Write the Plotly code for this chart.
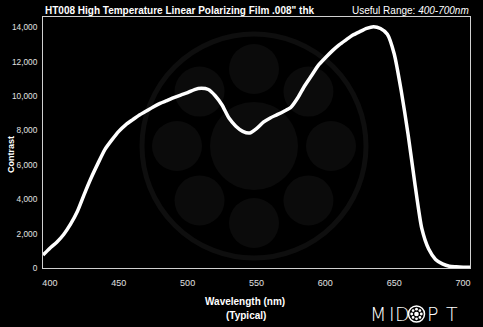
import math
import plotly.graph_objects as go

# Contrast spectrum of HT008 high temperature linear polarizing film
wavelength_nm = [395, 400, 405, 410, 415, 420, 425, 430, 435, 440, 445, 450, 455,
                 460, 465, 470, 475, 480, 485, 490, 495, 500, 505, 510, 515, 520,
                 525, 530, 535, 540, 545, 550, 555, 560, 565, 570, 575, 580, 585,
                 590, 595, 600, 605, 610, 615, 620, 625, 630, 635, 640, 645, 650,
                 655, 660, 665, 670, 675, 680, 685, 690, 695, 700, 705]
contrast = [750, 1150, 1500, 1950, 2550, 3300, 4300, 5250, 6100, 6900, 7450, 7950, 8330,
            8620, 8900, 9130, 9370, 9580, 9740, 9910, 10060, 10200, 10380, 10450, 10380, 10020,
            9480, 8720, 8250, 7950, 7850, 8110, 8480, 8730, 8920, 9120, 9350, 9900, 10600,
            11200, 11800, 12230, 12630, 12980, 13270, 13550, 13750, 13940, 14040, 13930, 13600, 12450,
            10340, 7800, 4900, 2300, 1100, 500, 240, 100, 70, 50, 40]

x_ticks = [400, 450, 500, 550, 600, 650, 700]
y_ticks = [0, 2000, 4000, 6000, 8000, 10000, 12000, 14000]
y_tick_text = ["0", "2,000", "4,000", "6,000", "8,000", "10,000", "12,000", "14,000"]

title_text = "HT008 High Temperature Linear Polarizing Film .008\" thk"
range_text = "Useful Range: <i>400-700nm</i>"
brand_letters = ["M", "I", "D", "P", "T"]

W, H = 483, 327
ML, MR, MT, MB = 43, 13, 17, 59
PW, PH = W - ML - MR, H - MT - MB


def px_to_paper(px, py):
    return (px - ML) / PW, (H - MB - py) / PH


fig = go.Figure()
fig.add_trace(go.Scatter(
    x=wavelength_nm, y=contrast, mode="lines",
    line=dict(color="white", width=3.5, shape="spline", smoothing=0.6),
    hoverinfo="skip", showlegend=False,
))

shapes = []


def circle(cx, cy, r, fill=None, line_color=None, line_width=0, layer="below"):
    ax, ay = px_to_paper(cx, cy)
    shapes.append(dict(
        type="circle", xref="paper", yref="paper",
        xsizemode="pixel", ysizemode="pixel", xanchor=ax, yanchor=ay,
        x0=-r, x1=r, y0=-r, y1=r,
        fillcolor=fill if fill else "rgba(0,0,0,0)",
        line=dict(color=line_color if line_color else "rgba(0,0,0,0)", width=line_width),
        layer=layer,
    ))


# faint watermark emblem behind the curve
wcx, wcy = 254, 146
circle(wcx, wcy, 112, line_color="#0e0e0e", line_width=5)
circle(wcx, wcy, 44, fill="#0b0b0b")
for k in range(8):
    a = math.pi / 2 - k * math.pi / 4
    circle(wcx + 77 * math.cos(a), wcy - 77 * math.sin(a), 25, fill="#0b0b0b")

# brand emblem in the footer
bcx, bcy = 416.5, 314
circle(bcx, bcy, 8, line_color="white", line_width=1.5, layer="above")
circle(bcx, bcy, 2.3, fill="white", layer="above")
for k in range(8):
    a = k * math.pi / 4
    circle(bcx + 4.8 * math.cos(a), bcy - 4.8 * math.sin(a), 1.4, fill="white", layer="above")

annotations = []


def text(px, py, s, size, bold=False, xanchor="center", angle=0, color="white",
         family="Liberation Sans", weight=None):
    ax, ay = px_to_paper(px, py)
    font = dict(family=family, size=size, color=color)
    if weight is not None:
        font["weight"] = weight
    annotations.append(dict(
        x=ax, y=ay, xref="paper", yref="paper", text=f"<b>{s}</b>" if bold else s,
        showarrow=False, xanchor=xanchor, yanchor="middle", textangle=angle,
        font=font,
    ))


text(43, 10, title_text, 10, bold=True, xanchor="left")
text(471, 10, range_text, 10, xanchor="right")
text(11, 155, "Contrast", 9, bold=True, angle=-90)
text(245, 302, "Wavelength (nm)", 10, bold=True)
text(246, 315, "(Typical)", 10, bold=True)
for letter, cx in zip(brand_letters, [378, 391.5, 402.5, 432.5, 452]):
    text(cx, 314, letter, 19, family="DejaVu Sans", weight=300)

fig.update_layout(
    width=W, height=H,
    margin=dict(l=ML, r=MR, t=MT, b=MB, pad=0),
    paper_bgcolor="black", plot_bgcolor="black",
    shapes=shapes, annotations=annotations,
    showlegend=False,
    xaxis=dict(
        range=[395, 705], tickvals=x_ticks, showgrid=False, zeroline=False,
        showline=True, linecolor="#d0d0d0", linewidth=1, mirror=True,
        ticks="", ticklabelstandoff=6,
        tickfont=dict(family="Liberation Sans", size=9, color="#e0e0e0"),
    ),
    yaxis=dict(
        range=[0, 14600], tickvals=y_ticks, ticktext=y_tick_text, showgrid=False,
        zeroline=False, showline=True, linecolor="#d0d0d0", linewidth=1, mirror=True,
        ticks="", ticklabelstandoff=3,
        tickfont=dict(family="Liberation Sans", size=8.3, color="#e0e0e0"),
    ),
)

fig.write_html("out.html")
